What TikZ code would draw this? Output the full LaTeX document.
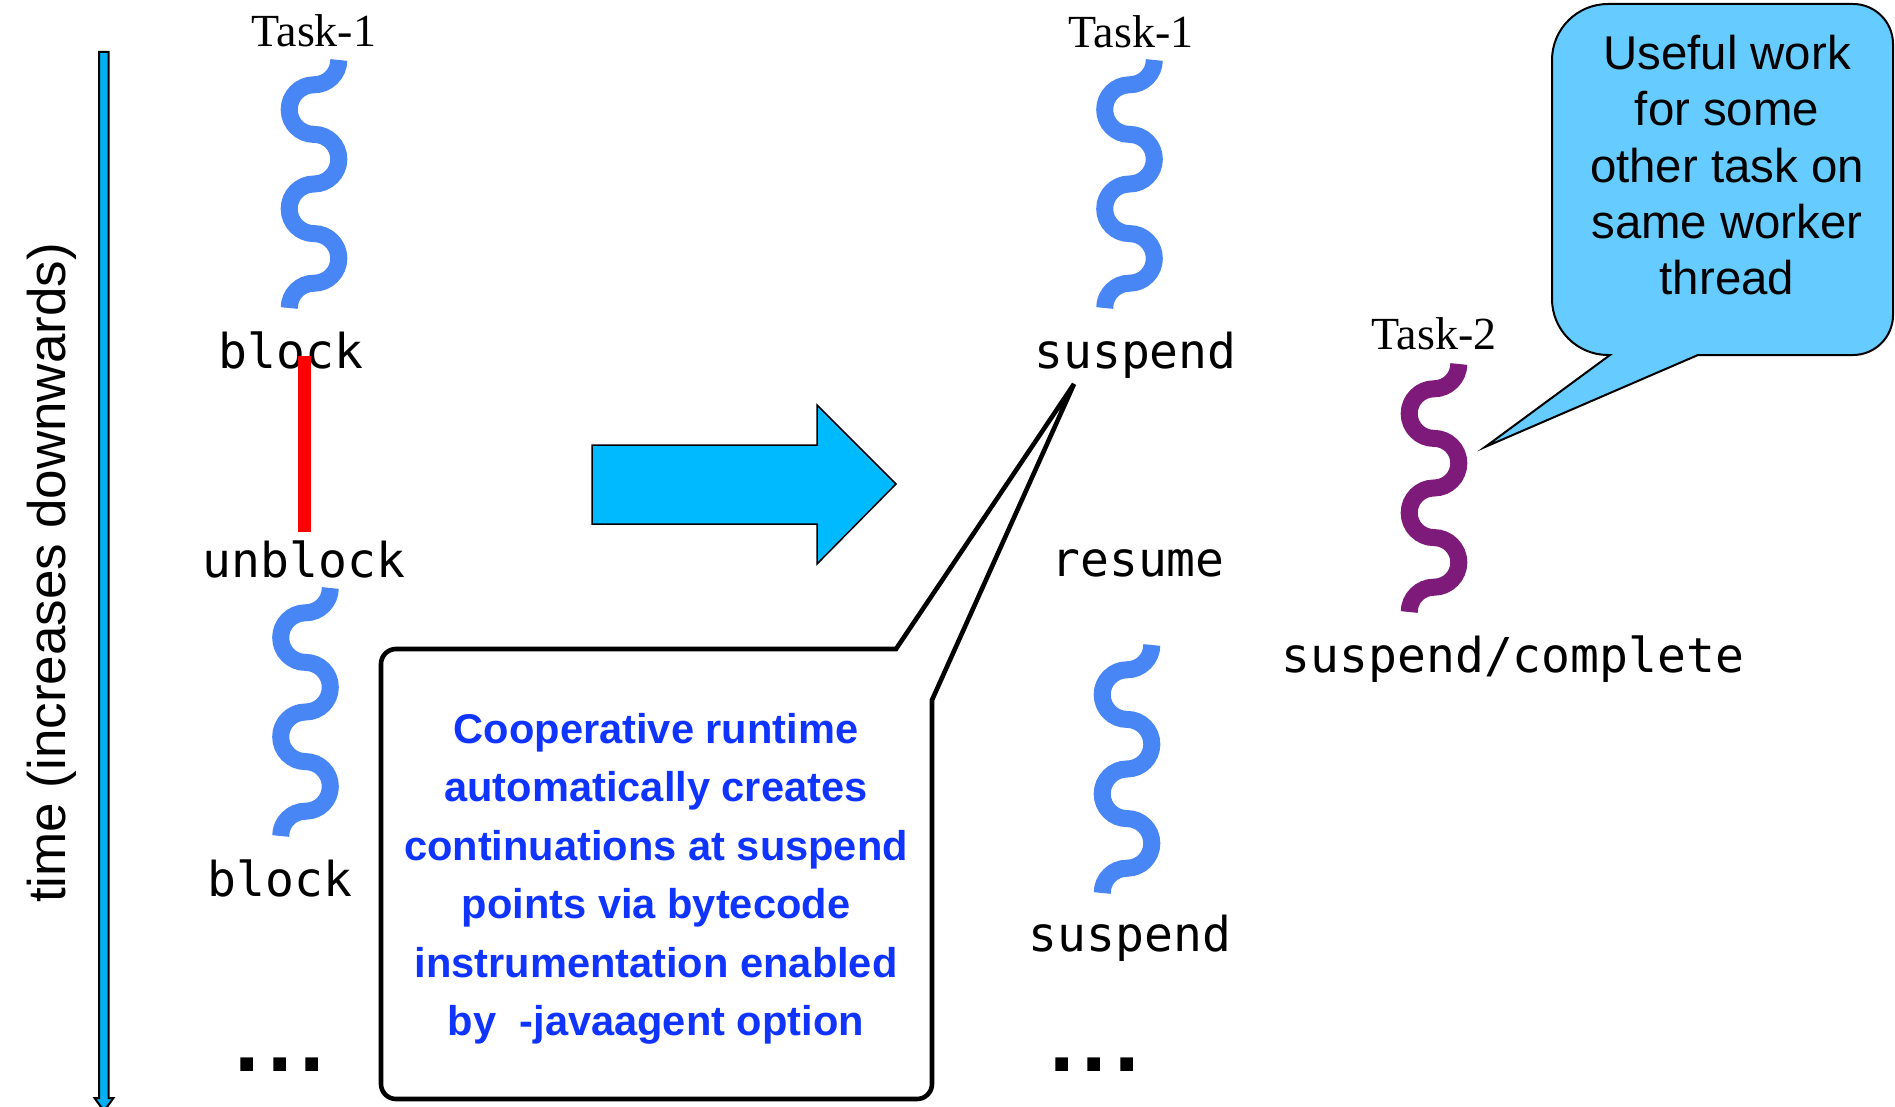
\documentclass[tikz,border=0pt]{standalone}
\usepackage{fontspec}
\newfontfamily\arialf{Liberation Sans}
\newfontfamily\timesf{Liberation Serif}
\newfontfamily\monof{DejaVu Sans Mono}
\newfontfamily\dotsf[LetterSpace=7]{DejaVu Sans}
\definecolor{sqblue}{RGB}{72,134,246}
\definecolor{sqpurple}{RGB}{126,27,122}
\definecolor{axiscyan}{RGB}{0,176,240}
\definecolor{arrowcyan}{RGB}{0,186,255}
\definecolor{callcyan}{RGB}{102,204,255}
\definecolor{boxblue}{RGB}{16,52,255}
\def\sqr{24.8}
\tikzset{
  squigline/.style={line width=8.5pt},
  squiggle/.pic={
    \draw[squigline] (\sqr,0)
      arc[start angle=0,end angle=90,radius=\sqr]
      arc[start angle=270,end angle=180,radius=\sqr]
      arc[start angle=180,end angle=90,radius=\sqr]
      arc[start angle=270,end angle=360,radius=\sqr]
      arc[start angle=0,end angle=90,radius=\sqr]
      arc[start angle=270,end angle=180,radius=\sqr]
      arc[start angle=180,end angle=90,radius=\sqr]
      arc[start angle=270,end angle=360,radius=\sqr]
      arc[start angle=0,end angle=90,radius=\sqr]
      arc[start angle=270,end angle=180,radius=\sqr];
  },
  monolbl/.style={font=\monof\fontsize{24pt}{28pt}\selectfont, anchor=base, inner sep=0pt},
  tasklbl/.style={font=\timesf\fontsize{23pt}{27pt}\selectfont, anchor=base, inner sep=0pt},
  dotslbl/.style={font=\dotsf\bfseries\fontsize{36pt}{40pt}\selectfont, anchor=base, inner sep=0pt},
}
\begin{document}
\begin{tikzpicture}[x=0.5pt,y=-0.5pt]
\useasboundingbox (0,0) rectangle (1895,1107);
\fill[white] (0,0) rectangle (1895,1107);

% time axis
\draw[line width=1pt, fill=axiscyan] (99,52) -- (108.5,52) -- (108.5,1098) -- (113.5,1098) -- (104,1111) -- (94.5,1098) -- (99,1098) -- cycle;
\node[rotate=90, anchor=base, inner sep=0pt, font=\arialf\fontsize{26.5pt}{30pt}\selectfont] (timelbl) at (65,573) {time (increases downwards)};

% squiggles
\pic[color=sqblue] (sqa) at (314,60) {squiggle};
\pic[color=sqblue] (sqb) at (305.5,588) {squiggle};
\pic[color=sqblue] (sqc) at (1129.5,60) {squiggle};
\pic[color=sqblue] (sqd) at (1127,645) {squiggle};
\pic[color=sqpurple] (sqe) at (1434,364) {squiggle};

% labels
\node[tasklbl] (t1a) at (314,47) {Task-1};
\node[tasklbl] (t1b) at (1131,48) {Task-1};
\node[tasklbl] (t2) at (1434,350) {Task-2};
\node[monolbl] (blk1) at (291,368) {block};
\node[monolbl] (unblk) at (304,577) {unblock};
\node[monolbl] (blk2) at (280,896) {block};
\node[dotslbl] (dl) at (280,1071) {...};
\node[monolbl] (susp1) at (1135.5,368) {suspend};
\node[monolbl] (res) at (1138,576) {resume};
\node[monolbl] (susp2) at (1130,951) {suspend};
\node[dotslbl] (dr) at (1094.5,1071) {...};
\node[monolbl] (suspc) at (1513,672) {suspend/complete};

% red blocking bar
\fill[red] (298,356) rectangle (311,532);

% big block arrow
\draw[line width=0.75pt, fill=arrowcyan] (592,445) -- (817,445) -- (817,405) -- (896,484) -- (817,564) -- (817,524) -- (592,524) -- cycle;

% bottom callout
\draw[line width=2.3pt, fill=white] (396,649) -- (896,649) -- (1074,384) -- (932,700) -- (932,1084)
  arc[start angle=0,end angle=90,radius=15] -- (396,1099)
  arc[start angle=90,end angle=180,radius=15] -- (381,664)
  arc[start angle=180,end angle=270,radius=15] -- cycle;
\node[anchor=north, inner sep=0pt, align=center, text=boxblue,
  font=\arialf\bfseries\fontsize{20.8pt}{29.2pt}\selectfont] (note) at (656,713)
  {Cooperative runtime\\automatically creates\\continuations at suspend\\points via bytecode\\instrumentation enabled\\by\ \ -javaagent option};

% right callout
\draw[line width=1pt, fill=callcyan] (1610,4) -- (1853,4)
  arc[start angle=270,end angle=360,radius=40] -- (1893,315)
  arc[start angle=0,end angle=90,radius=40] -- (1698,355) -- (1485,447) -- (1610,355) -- (1608,355)
  arc[start angle=90,end angle=180,radius=56] -- (1552,60)
  arc[start angle=180,end angle=270,radius=56] -- cycle;
\node[anchor=north, inner sep=0pt, align=center,
  font=\arialf\fontsize{23.7pt}{28.1pt}\selectfont] (useful) at (1727,35)
  {Useful work\\for some\\other task on\\same worker\\thread};
\end{tikzpicture}
\end{document}
